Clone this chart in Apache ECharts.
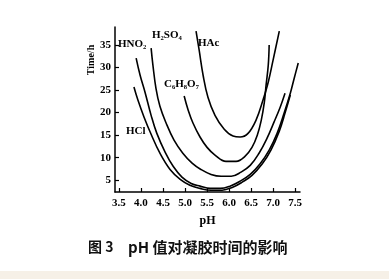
<!DOCTYPE html>
<html><head><meta charset="utf-8">
<script src="https://cdn.jsdelivr.net/npm/echarts@6/dist/echarts.min.js"></script>
<style>html,body{margin:0;padding:0;background:#fff}#c{width:389px;height:279px}</style>
</head><body><div id="c"></div>
<script>
// ---- data (pH, time/h) ----
const xTicks = [3.5, 4.0, 4.5, 5.0, 5.5, 6.0, 6.5, 7.0, 7.5];
const yTicks = [5, 10, 15, 20, 25, 30, 35];

const phHAc   = [5.25, 5.32, 5.41, 5.52, 5.68, 5.89, 6.09, 6.25, 6.43, 6.61, 6.77, 6.89, 7.00, 7.14];
const timeHAc = [38.1, 33.9, 28.3, 23.4, 19.4, 16.3, 14.8, 14.6, 15.4, 18.3, 22.8, 26.8, 31.7, 38.1];

const phCit   = [4.98, 5.07, 5.18, 5.34, 5.50, 5.68, 5.93, 6.16, 6.36, 6.52, 6.64, 6.73, 6.80, 6.84, 6.89, 6.91];
const timeCit = [23.7, 20.6, 17.7, 14.6, 12.3, 10.6, 9.2, 9.2, 10.3, 12.3, 15.0, 18.3, 22.3, 26.1, 30.6, 35.0];

const phH2SO4   = [4.23, 4.27, 4.34, 4.43, 4.57, 4.75, 4.95, 5.16, 5.36, 5.59, 5.82, 6.05, 6.27, 6.48, 6.68, 6.86, 7.02, 7.16, 7.27];
const timeH2SO4 = [34.3, 30.6, 25.4, 21.4, 17.7, 13.9, 11.0, 8.8, 7.4, 6.3, 5.9, 5.9, 6.8, 8.3, 11.0, 14.3, 17.9, 21.2, 24.3];

const phHNO2   = [3.89, 3.98, 4.09, 4.23, 4.36, 4.55, 4.73, 4.93, 5.14, 5.34, 5.57, 5.80, 6.02, 6.25, 6.48, 6.70, 6.91, 7.09, 7.25, 7.39, 7.48, 7.57];
const timeHNO2 = [32.1, 28.3, 24.6, 19.4, 15.4, 11.2, 8.1, 5.7, 4.3, 3.7, 3.2, 3.2, 3.7, 4.8, 6.3, 8.6, 11.7, 15.4, 19.9, 24.3, 27.7, 31.0];

const phHCl   = [3.84, 3.93, 4.07, 4.23, 4.43, 4.66, 4.89, 5.11, 5.34, 5.59, 5.84, 6.07, 6.30, 6.52, 6.75, 6.95, 7.14, 7.27, 7.39];
const timeHCl = [25.7, 22.8, 19.0, 15.2, 11.0, 7.4, 5.2, 3.9, 3.2, 2.8, 2.8, 3.4, 4.6, 6.1, 8.6, 11.7, 15.9, 19.9, 23.9];

const seriesNames = ['HAc', 'C6H8O7', 'H2SO4', 'HNO2', 'HCl'];
const seriesPH = [phHAc, phCit, phH2SO4, phHNO2, phHCl];
const seriesT  = [timeHAc, timeCit, timeH2SO4, timeHNO2, timeHCl];

const curveLabels = [
  {text: 'HNO₂', x: 118, y: 46},
  {text: 'H₂SO₄', x: 152, y: 37},
  {text: 'HAc', x: 198, y: 45},
  {text: 'C₆H₈O₇', x: 164, y: 86},
  {text: 'HCl', x: 126, y: 133}
];

const SERIF = '"Liberation Serif","DejaVu Serif",serif';
const chart = echarts.init(document.getElementById('c'));

const series = seriesNames.map((n, i) => ({
  name: n, type: 'line', smooth: 0.4, symbol: 'none',
  lineStyle: {color: '#000', width: 1.6},
  data: seriesPH[i].map((p, j) => [p, seriesT[i][j]])
}));

const graphic = curveLabels.map(l => ({
  type: 'text', left: l.x, top: l.y - 7,
  style: {text: l.text, font: 'bold 11px ' + SERIF, fill: '#000'}
}));
graphic.push({
  type: 'text', x: 91, y: 60, rotation: Math.PI / 2,
  style: {text: 'Time/h', font: 'bold 10px ' + SERIF, fill: '#000', align: 'center', verticalAlign: 'middle'}
});
graphic.push({
  type: 'text', x: 88, y: 247,
  style: {text: '图 3', font: 'bold 14px "Noto Sans CJK SC",sans-serif', fill: '#111', verticalAlign: 'middle'}
});
graphic.push({
  type: 'text', x: 128, y: 247,
  style: {text: 'pH 值对凝胶时间的影响', font: 'bold 15px "Noto Sans CJK SC",sans-serif', fill: '#111', verticalAlign: 'middle'}
});
graphic.push({
  type: 'rect', shape: {x: 0, y: 271, width: 389, height: 8}, style: {fill: '#f6f0e7'}, z: -1
});

chart.setOption({
  animation: false,
  backgroundColor: '#fff',
  grid: {left: 115, top: 27, right: 89, bottom: 87},
  xAxis: {
    type: 'value', min: 3.41, max: 7.61,
    name: 'pH', nameLocation: 'middle', nameGap: 23,
    nameTextStyle: {fontFamily: SERIF, fontWeight: 'bold', fontSize: 12, color: '#000'},
    axisLine: {show: true, lineStyle: {color: '#000', width: 1.5}},
    axisTick: {show: true, inside: true, length: 4, customValues: xTicks, lineStyle: {color: '#000', width: 1.2}},
    axisLabel: {customValues: xTicks, formatter: v => v.toFixed(1), fontFamily: SERIF, fontWeight: 'bold', fontSize: 11, color: '#000', margin: 6},
    splitLine: {show: false}
  },
  yAxis: {
    type: 'value', min: 2.4, max: 39,
    axisLine: {show: true, lineStyle: {color: '#000', width: 1.5}},
    axisTick: {show: true, inside: true, length: 4, customValues: yTicks, lineStyle: {color: '#000', width: 1.2}},
    axisLabel: {customValues: yTicks, fontFamily: SERIF, fontWeight: 'bold', fontSize: 11, color: '#000', margin: 4},
    splitLine: {show: false}
  },
  series: series,
  graphic: graphic
});
</script></body></html>
